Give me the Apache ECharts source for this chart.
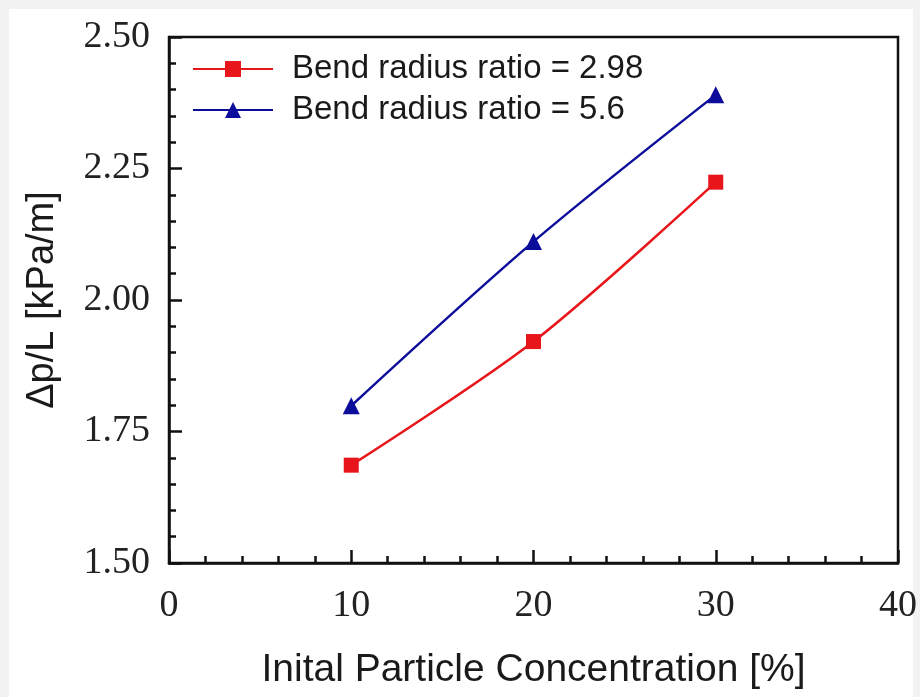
<!DOCTYPE html>
<html>
<head>
<meta charset="utf-8">
<script src="https://cdn.jsdelivr.net/npm/echarts@6/dist/echarts.min.js"></script>
<style>
  html, body { margin: 0; padding: 0; background: #f2f2f2; }
  #bg { position: absolute; left: 9px; top: 9px; width: 904px; height: 688px; background: #ffffff; }
  #c { position: absolute; left: 0; top: 0; width: 920px; height: 697px; }
</style>
</head>
<body>
<div id="bg"></div>
<div id="c"></div>
<script>
// Data
const concentration = [10, 20, 30];
const ratio298 = [1.686, 1.921, 2.224];
const ratio56 = [1.799, 2.111, 2.390];
const seriesNames = ['Bend radius ratio = 2.98', 'Bend radius ratio = 5.6'];
const xTitle = 'Inital Particle Concentration [%]';
const yTitle = 'Δp/L [kPa/m]';

const RED = '#e8151b';
const BLUE = '#0d0d9c';

const chart = echarts.init(document.getElementById('c'), null, { renderer: 'canvas' });
const serif = '"Liberation Serif", "Times New Roman", serif';
const sans = '"Liberation Sans", Arial, sans-serif';

chart.setOption({
  backgroundColor: 'transparent',
  animation: false,
  grid: {
    left: 169, right: 13, top: 37, bottom: 134,
    show: true, borderColor: '#111', borderWidth: 2.5, backgroundColor: 'transparent'
  },
  legend: {
    orient: 'vertical',
    left: 192, top: 52, padding: 0,
    itemWidth: 80, itemHeight: 20, itemGap: 7,
    textStyle: { fontFamily: sans, fontSize: 33, color: '#1a1a1a', lineHeight: 34, padding: [0, 0, 0, 14] },
    data: seriesNames
  },
  xAxis: {
    type: 'value', min: 0, max: 40, interval: 10,
    name: xTitle, nameLocation: 'middle', nameGap: 88,
    nameTextStyle: { fontFamily: sans, fontSize: 39, color: '#1a1a1a' },
    axisLine: { show: true, lineStyle: { color: '#111', width: 2.5 } },
    axisTick: { show: true, inside: true, length: 13, lineStyle: { color: '#111', width: 2.5 } },
    minorTick: { show: true, splitNumber: 5, length: 7, lineStyle: { color: '#111', width: 2.5 } },
    axisLabel: { fontFamily: serif, fontSize: 38, color: '#222', margin: 24 },
    splitLine: { show: false }
  },
  yAxis: {
    type: 'value', min: 1.5, max: 2.5, interval: 0.25,
    name: yTitle, nameLocation: 'middle', nameGap: 107, nameRotate: 90,
    nameTextStyle: { fontFamily: sans, fontSize: 38, color: '#1a1a1a' },
    axisLine: { show: true, lineStyle: { color: '#111', width: 2.5 } },
    axisTick: { show: true, inside: true, length: 13, lineStyle: { color: '#111', width: 2.5 } },
    minorTick: { show: true, splitNumber: 5, length: 7, lineStyle: { color: '#111', width: 2.5 } },
    axisLabel: { fontFamily: serif, fontSize: 38, color: '#222', margin: 19, formatter: v => v.toFixed(2) },
    splitLine: { show: false }
  },
  series: [
    {
      name: seriesNames[0], type: 'line', smooth: 0.3,
      data: concentration.map((x, i) => [x, ratio298[i]]),
      symbol: 'rect', symbolSize: 15,
      itemStyle: { color: RED },
      lineStyle: { color: RED, width: 2.5 }
    },
    {
      name: seriesNames[1], type: 'line', smooth: 0.3,
      data: concentration.map((x, i) => [x, ratio56[i]]),
      symbol: 'triangle', symbolSize: 17,
      itemStyle: { color: BLUE },
      lineStyle: { color: BLUE, width: 2.5 }
    }
  ]
});
</script>
</body>
</html>
